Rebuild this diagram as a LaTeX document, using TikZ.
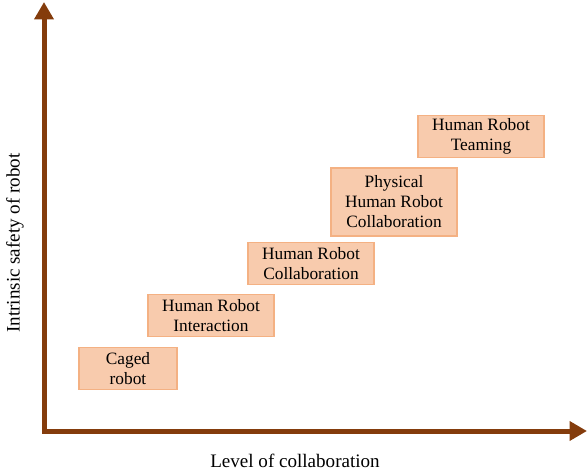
\documentclass[tikz,border=0pt]{standalone}
\usepackage{fontspec}
\setmainfont{Liberation Serif}
\usepackage{tikz}
\usetikzlibrary{arrows.meta}
\definecolor{axisbrown}{HTML}{843C0C}
\definecolor{boxfill}{HTML}{F8CBAD}
\definecolor{boxline}{HTML}{F4B183}
\tikzset{
	x=0.75pt, y=-0.75pt,
	level/.style = {
		shape=rectangle,
		draw=boxline,
		fill=boxfill,
		line width=0.9pt,
		align=center,
		font=\fontsize{13}{15}\selectfont,
		inner sep=0pt,
		minimum width=94.5pt,
		minimum height=31.5pt
	},
	axis/.style = {
		draw=axisbrown,
		line width=3.75pt,
		-{Triangle[width=14pt,length=13pt]}
	},
	axislabel/.style = {
		font=\fontsize{14.3}{16}\selectfont
	}
}
\begin{document}
\begin{tikzpicture}
	\useasboundingbox (0,0) rectangle (587,475);
	\coordinate (origin) at (44,431);
	\coordinate (ytip) at (44,2);
	\coordinate (xtip) at (587,431);
	\draw[axis] (44,433) -- (ytip);
	\draw[axis] (42,431) -- (xtip);
	\node[level, minimum width=73.5pt] (caged) at (128,368.5) {Caged\\robot};
	\node[level] (interaction) at (211,315.5) {Human Robot\\Interaction};
	\node[level] (collab) at (311,263.5) {Human Robot\\Collaboration};
	\node[level, minimum height=51pt] (physical) at (394,202) {Physical\\Human Robot\\Collaboration};
	\node[level] (teaming) at (481,136.5) {Human Robot\\Teaming};
	\node[axislabel] (xlabel) at (295,461) {Level of collaboration};
	\node[axislabel, rotate=90] (ylabel) at (15,243) {Intrinsic safety of robot};
\end{tikzpicture}
\end{document}
